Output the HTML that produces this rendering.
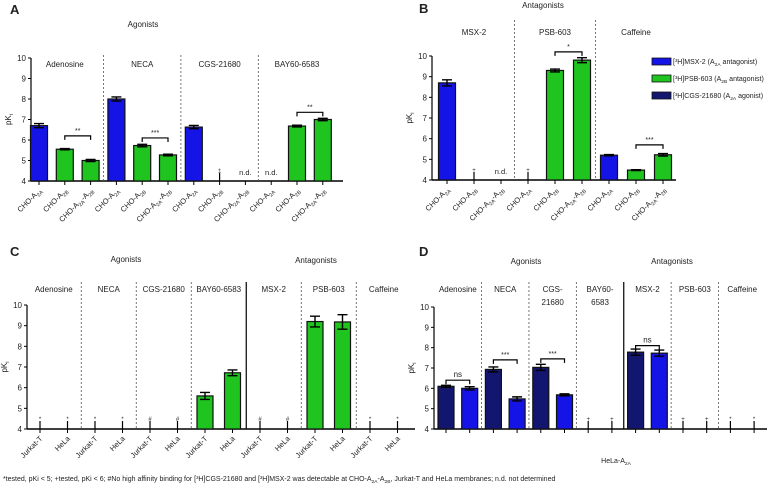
<!DOCTYPE html>
<html><head><meta charset="utf-8"><style>
body{margin:0;background:#fff}
svg{display:block;font-family:"Liberation Sans",sans-serif}
</style></head><body>
<svg id="fig" width="767" height="484" viewBox="0 0 767 484" xmlns="http://www.w3.org/2000/svg"></svg>
<script>
const NS='http://www.w3.org/2000/svg';
const svg=document.getElementById('fig');
// ---- data ----
const aLabels=['CHO-A|2A','CHO-A|2B','CHO-A|2A|-A|2B','CHO-A|2A','CHO-A|2B','CHO-A|2A|-A|2B','CHO-A|2A','CHO-A|2B','CHO-A|2A|-A|2B','CHO-A|2A','CHO-A|2B','CHO-A|2A|-A|2B'];
const aValues=[6.7,5.55,5.0,8.0,5.73,5.27,6.63,null,null,null,6.68,7.0];
const aErrors=[0.1,0.03,0.05,0.1,0.06,0.04,0.08,0,0,0,0.04,0.06];
const aColors=['b','g','g','b','g','g','b','g','g','b','g','g'];
const aGroups=['Adenosine','NECA','CGS-21680','BAY60-6583'];
const bLabels=['CHO-A|2A','CHO-A|2B','CHO-A|2A|-A|2B','CHO-A|2A','CHO-A|2B','CHO-A|2A|-A|2B','CHO-A|2A','CHO-A|2B','CHO-A|2A|-A|2B'];
const bValues=[8.7,null,null,null,9.3,9.8,5.2,4.48,5.22];
const bErrors=[0.15,0,0,0,0.07,0.12,0.03,0.02,0.06];
const bColors=['b','g','g','b','g','g','b','g','g'];
const bGroups=['MSX-2','PSB-603','Caffeine'];
const cLabels=['Jurkat-T','HeLa','Jurkat-T','HeLa','Jurkat-T','HeLa','Jurkat-T','HeLa','Jurkat-T','HeLa','Jurkat-T','HeLa','Jurkat-T','HeLa'];
const cValues=[null,null,null,null,null,null,5.6,6.72,null,null,9.2,9.18,null,null];
const cErrors=[0,0,0,0,0,0,0.17,0.14,0,0,0.26,0.35,0,0];
const cGroups=['Adenosine','NECA','CGS-21680','BAY60-6583','MSX-2','PSB-603','Caffeine'];
const dValues=[6.1,6.0,6.93,5.48,7.03,5.68,null,null,7.78,7.73,null,null,null,null];
const dErrors=[0.05,0.08,0.12,0.1,0.15,0.05,0,0,0.15,0.15,0,0,0,0];
const dColors=['n','b','n','b','n','b','n','b','n','b','n','b','n','b'];
const dGroups=['Adenosine','NECA','CGS-|21680','BAY60-|6583','MSX-2','PSB-603','Caffeine'];
const COL={b:'#1414e6',g:'#1fc41f',n:'#13166f'};

function mk(tag,attrs,name,parent){
  const el=document.createElementNS(NS,tag);
  for(const k in attrs)el.setAttribute(k,attrs[k]);
  
  
  (parent||svg).appendChild(el);return el;
}
function txt(x,y,s,size,name,anchor,extra){
  const t=mk('text',Object.assign({x:x,y:y,'font-size':size,'text-anchor':anchor||'middle',fill:'#222'},extra||{}),name);
  t.textContent=s;return t;
}
function subLabel(el,s,size){
  const parts=s.split('|');
  parts.forEach((p,i)=>{
    const ts=document.createElementNS(NS,'tspan');
    if(i%2===1){ts.setAttribute('font-size',size*0.7);ts.setAttribute('dy','2');}
    else if(i>0){ts.setAttribute('dy','-2');}
    ts.textContent=p;el.appendChild(ts);
  });
}
function panel(c){
  const y=v=>c.yBot-(v-4)*(c.yBot-c.yTop)/6;
  const xc=i=>c.x0+c.first+i*c.step;
  // y axis
  mk('line',{x1:c.x0,y1:c.yTop,x2:c.x0,y2:c.yBot,stroke:'#000','stroke-width':1.2},c.id+'-y-axis');
  for(let v=4;v<=10;v++){
    mk('line',{x1:c.x0-3,y1:y(v),x2:c.x0,y2:y(v),stroke:'#000'},c.id+'-y-tick');
    txt(c.x0-5,y(v)+3,String(v),8,c.id+'-y-tick-label','end');
  }
  const yl=txt(c.x0-20,(c.yTop+c.yBot)/2,'',8,c.id+'-y-axis-title','middle',{transform:`rotate(-90 ${c.x0-20} ${(c.yTop+c.yBot)/2})`});
  subLabel(yl,'pK|i',8);
  mk('line',{x1:c.x0,y1:c.yBot,x2:c.xEnd,y2:c.yBot,stroke:'#000','stroke-width':1.4},c.id+'-x-axis');
  // separators
  c.seps.forEach((s,k)=>{
    const sx=xc(s+0.5);
    mk('line',{x1:sx,y1:c.sepTop,x2:sx,y2:c.yBot,stroke:c.solid===s?'#000':'#555','stroke-width':c.solid===s?1.2:0.8,'stroke-dasharray':c.solid===s?'':'2,2'},c.id+'-group-separator');
  });
  // group headers
  const bounds=[-1].concat(c.seps,[c.values.length-1]);
  c.groups.forEach((g,k)=>{
    const gx=xc((bounds[k]+1+bounds[k+1])/2);
    const lines=g.split('|');
    lines.forEach((ln,j)=>txt(gx,c.hy+j*13,ln,8,c.id+'-group-label'));
  });
  // bars
  c.values.forEach((v,i)=>{
    const x=xc(i);
    mk('line',{x1:x,y1:c.yBot,x2:x,y2:c.yBot+4,stroke:'#000'},c.id+'-x-tick');
    if(v!==null){
      mk('rect',{x:x-c.bw/2,y:y(v),width:c.bw,height:c.yBot-y(v),fill:COL[c.colors[i]],stroke:'#111','stroke-width':1.2},c.id+'-bar');
      const e=c.errors[i];
      mk('path',{d:`M${x},${y(v+e)}V${y(v-e)}M${x-5},${y(v+e)}H${x+5}M${x-5},${y(v-e)}H${x+5}`,stroke:'#000','stroke-width':1.4,fill:'none'},c.id+'-error-bar');
    }
    if(c.marks&&c.marks[i]){
      const m=c.marks[i];
      if(m==='n.d.') txt(x,c.yBot-6,'n.d.',7.5,c.id+'-not-determined');
      else{
        mk('line',{x1:x,y1:c.yBot,x2:x,y2:c.yBot-8,stroke:'#000','stroke-width':1.2},c.id+'-tested-marker');
        txt(x,c.yBot-8,m,6,c.id+'-marker-symbol');
      }
    }
    if(c.labels){
      const lx=x+3,ly=c.yBot+10;
      const t=txt(lx,ly,'',7.5,c.id+'-x-tick-label','end',{transform:`rotate(-45 ${lx} ${ly})`});
      subLabel(t,c.labels[i],7.5);
    }
  });
  // significance
  (c.sig||[]).forEach(s=>{
    const x1=xc(s[0]),x2=xc(s[1]),yy=y(s[2]);
    mk('path',{d:`M${x1},${yy+4}V${yy}H${x2}V${yy+4}`,stroke:'#000','stroke-width':1.2,fill:'none'},c.id+'-significance-bracket');
    txt((x1+x2)/2,yy-3,s[3],s[3]==='ns'?8:7,c.id+'-significance-label');
  });
}
// Panel A
txt(10,14,'A',13,'panel-a-letter','start',{'font-weight':'bold'});
txt(143,27,'Agonists',8,'panel-a-title');
panel({id:'a',x0:31,xEnd:343,yTop:58,yBot:181,first:8,step:25.8,bw:17,values:aValues,errors:aErrors,colors:aColors,labels:aLabels,groups:aGroups,seps:[2,5,8],sepTop:55,hy:67,
 marks:{7:'‡',8:'n.d.',9:'n.d.'},sig:[[1,2,6.2,'**'],[4,5,6.1,'***'],[10,11,7.35,'**']]});
// Panel B
txt(419,13,'B',13,'panel-b-letter','start',{'font-weight':'bold'});
txt(543,8,'Antagonists',8,'panel-b-title');
panel({id:'b',x0:432,xEnd:676,yTop:56,yBot:180,first:15,step:27,bw:17,values:bValues,errors:bErrors,colors:bColors,labels:bLabels,groups:bGroups,seps:[2,5],sepTop:20,hy:35,
 marks:{1:'+',2:'n.d.',3:'+'},sig:[[4,5,10.2,'*'],[7,8,5.7,'***']]});
// legend
[['b','[³H]MSX-2 (A|2A| antagonist)'],['g','[³H]PSB-603 (A|2B| antagonist)'],['n','[³H]CGS-21680 (A|2A| agonist)']].forEach((l,i)=>{
  mk('rect',{x:652,y:58+i*17,width:19,height:7,fill:COL[l[0]],stroke:'#111','stroke-width':0.8},'legend-swatch');
  const t=txt(673,64+i*17,'',7,'legend-entry','start');subLabel(t,l[1],7);
});
// Panel C
txt(10,256,'C',13,'panel-c-letter','start',{'font-weight':'bold'});
txt(126,262,'Agonists',8,'panel-c-agonists-title');
txt(316,263,'Antagonists',8,'panel-c-antagonists-title');
panel({id:'c',x0:27,xEnd:415,yTop:305,yBot:429,first:13,step:27.5,bw:16,values:cValues,errors:cErrors,colors:cValues.map(()=>'g'),labels:cLabels,groups:cGroups,seps:[1,3,5,7,9,11],solid:7,sepTop:282,hy:292,
 marks:{0:'*',1:'*',2:'*',3:'*',4:'#',5:'#',8:'#',9:'#',12:'*',13:'*'}});
// Panel D
txt(419,256,'D',13,'panel-d-letter','start',{'font-weight':'bold'});
txt(526,264,'Agonists',8,'panel-d-agonists-title');
txt(672,264,'Antagonists',8,'panel-d-antagonists-title');
panel({id:'d',x0:434,xEnd:767,yTop:307,yBot:429,first:12,step:23.7,bw:16,values:dValues,errors:dErrors,colors:dColors,labels:null,groups:dGroups,seps:[1,3,5,7,9,11],solid:7,sepTop:282,hy:292,
 marks:{6:'+',7:'+',10:'+',11:'+',12:'*',13:'*'},sig:[[0,1,6.4,'ns'],[2,3,7.4,'***'],[4,5,7.45,'***'],[8,9,8.1,'ns']]});
{const t=txt(616,463,'',7,'panel-d-x-axis-title');subLabel(t,'HeLa-A|2A',7);}
{const t=txt(3,481,'',7,'footnote','start');subLabel(t,'*tested, pKi < 5; +tested, pKi < 6; #No high affinity binding for [³H]CGS-21680 and [³H]MSX-2 was detectable at CHO-A|2A|-A|2B|, Jurkat-T and HeLa membranes; n.d. not determined',7);}
</script>
</body></html>
